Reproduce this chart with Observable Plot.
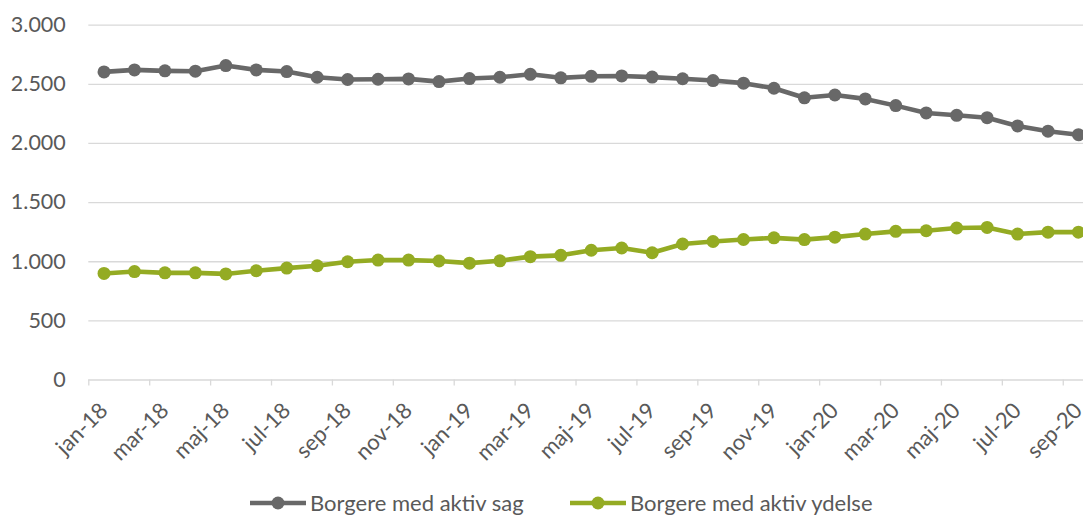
<!DOCTYPE html>
<html>
<head>
<meta charset="utf-8">
<script src="https://cdn.jsdelivr.net/npm/d3@7"></script>
<script src="https://cdn.jsdelivr.net/npm/@observablehq/plot@0.6"></script>
<style>
  body { margin: 0; background: #fff; font-family: Lato, "Open Sans", sans-serif; }
  #chart { position: relative; width: 1083px; height: 517px; overflow: hidden; background: #fff; }
  #legend { position: absolute; left: 0; top: 490px; width: 1083px; height: 26px; }
  .item { position: absolute; top: 0; height: 26px; display: flex; align-items: center; font-size: 22px; line-height: 26px; color: #595959; white-space: nowrap; }
  .item svg { display: block; margin-right: 4px; }
</style>
</head>
<body>
<div id="chart"><div id="legend"></div></div>
<script>
const months = ["jan-18","feb-18","mar-18","apr-18","maj-18","jun-18","jul-18","aug-18","sep-18","okt-18","nov-18","dec-18",
                "jan-19","feb-19","mar-19","apr-19","maj-19","jun-19","jul-19","aug-19","sep-19","okt-19","nov-19","dec-19",
                "jan-20","feb-20","mar-20","apr-20","maj-20","jun-20","jul-20","aug-20","sep-20"];
const sag = [2605, 2622, 2614, 2611, 2659, 2622, 2608, 2560, 2541, 2543, 2546, 2523, 2549, 2560, 2585, 2555, 2568,
             2571, 2561, 2547, 2532, 2510, 2467, 2386, 2410, 2377, 2320, 2258, 2238, 2218, 2148, 2104, 2074];
const ydelse = [901, 917, 906, 906, 897, 924, 946, 966, 1000, 1014, 1014, 1006, 988, 1008, 1043, 1054, 1097,
                1116, 1076, 1150, 1171, 1188, 1202, 1187, 1208, 1234, 1257, 1262, 1285, 1290, 1234, 1250, 1250];
const seriesNames = ["Borgere med aktiv sag", "Borgere med aktiv ydelse"];
const seriesColors = ["#686868", "#94ab23"];
const yTicks = [0, 500, 1000, 1500, 2000, 2500, 3000];

const seriesValues = [sag, ydelse];
const data = seriesNames.flatMap((name, s) => seriesValues[s].map((v, i) => ({i, month: months[i], value: v, series: name})));
const labelIdx = months.map((m, i) => i).filter(i => i % 2 === 0);
const boundaries = labelIdx.map(i => i - 0.5);

const loc = d3.formatLocale({decimal: ",", thousands: ".", grouping: [3], currency: ["", ""]});
const fmt = loc.format(",");

const plot = Plot.plot({
  width: 1083,
  height: 475,
  marginLeft: 88.3,
  marginRight: 0,
  marginTop: 24.7,
  marginBottom: 95.5,
  x: {type: "linear", domain: [-0.5, months.length - 0.5], range: [88.3, 1093.2], axis: null},
  y: {domain: [0, 3000], axis: null},
  color: {domain: seriesNames, range: seriesColors},
  style: {fontFamily: "Lato, 'Open Sans', sans-serif", fontSize: "22px", color: "#595959", background: "white", overflow: "hidden"},
  marks: [
    Plot.ruleY(yTicks, {stroke: "#d9d9d9", strokeWidth: 1.3}),
    Plot.ruleX(boundaries, {x: d => d, y1: 0, y2: 0, insetBottom: -6, stroke: "#d9d9d9", strokeWidth: 1.3}),
    Plot.text(yTicks, {x: () => -0.5, y: d => d, text: d => fmt(d), textAnchor: "end", dx: -23, fill: "#595959", fontSize: 21.5}),
    Plot.text(labelIdx, {x: d => d, y: () => 0, text: d => months[d], rotate: -45, textAnchor: "end", dx: 0, dy: 27, fill: "#595959", fontSize: 22}),
    Plot.line(data, {x: "i", y: "value", z: "series", stroke: "series", strokeWidth: 4.6, strokeLinejoin: "round"}),
    Plot.dot(data, {x: "i", y: "value", fill: "series", r: 6.5})
  ]
});
const chart = document.getElementById("chart");
chart.insertBefore(plot, chart.firstChild);

const legend = document.getElementById("legend");
const legendLeft = [250, 570];
seriesNames.forEach((name, s) => {
  const item = document.createElement("div");
  item.className = "item";
  item.style.left = legendLeft[s] + "px";
  item.innerHTML = `<svg width="56" height="16"><line x1="0" y1="8" x2="56" y2="8" stroke="${seriesColors[s]}" stroke-width="4.6"/><circle cx="28" cy="8" r="6.5" fill="${seriesColors[s]}"/></svg><span>${name}</span>`;
  legend.appendChild(item);
});
</script>
</body>
</html>
